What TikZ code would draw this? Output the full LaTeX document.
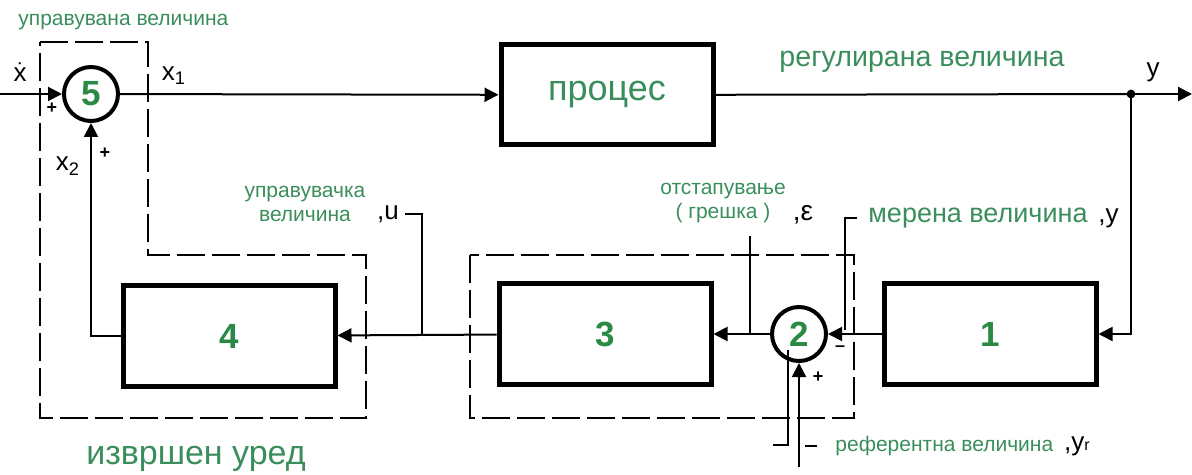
\documentclass[tikz,border=0pt]{standalone}
\usepackage{fontspec}
\setmainfont{Liberation Sans}
\usetikzlibrary{arrows.meta,positioning,calc}
\definecolor{lblgreen}{HTML}{3A8E5C}
\definecolor{numgreen}{HTML}{2A8A45}

\begin{document}
\begin{tikzpicture}[
  x=0.5pt,y=-0.5pt,
  blk/.style={draw,line width=2.5pt,minimum width=106pt,minimum height=50pt,inner sep=0pt,
    font=\fontsize{17.5}{17.5}\selectfont\bfseries,text=numgreen},
  sumj/.style={draw,circle,line width=2pt,minimum size=27pt,inner sep=0pt,
    font=\fontsize{17.5}{17.5}\selectfont\bfseries,text=numgreen},
  flow/.style={-{Triangle[length=7pt,width=7pt]},line width=1pt},
  lead/.style={line width=0.7pt},
  zone/.style={dash pattern=on 14pt off 3.5pt,line width=1pt},
  tag/.style={font=\fontsize{10.5}{12}\selectfont,text=lblgreen,inner sep=0pt},
  bigtag/.style={font=\fontsize{13.5}{15}\selectfont,text=lblgreen,inner sep=0pt},
  sym/.style={font=\fontsize{13}{13}\selectfont,inner sep=0pt},
  sgn/.style={font=\fontsize{9}{9}\selectfont\bfseries,inner sep=0pt}
]
\useasboundingbox (0,0) rectangle (1192,475);
% blocks and junctions
\node[sumj] (s5) at (91,94) {5};
\node[blk,font=\fontsize{18}{18}\selectfont,text=lblgreen] (proc) at (607,95) {процес};
\node[blk] (b1) at (990,334) {1};
\node[sumj] (s2) at (799,334) {2};
\node[blk] (b3) at (605,334) {3};
\node[blk] (b4) at (229,336) {4};
\coordinate (xin) at (0,94);
\coordinate (tap) at (1131,94);
\coordinate (yout) at (1192,94);
\coordinate (rin) at (799,467);
% signal flow
\draw[flow] (xin) -- (s5);
\draw[flow] (s5) -- (proc);
\draw[line width=1pt] (proc) -- (tap);
\draw[flow] (tap) -- (yout);
\fill (tap) circle (2.2pt);
\draw[flow] (tap) |- (b1);
\draw[flow] (b1) -- (s2);
\draw[flow] (s2) -- (b3);
\draw[flow] (b3) -- (b4);
\draw[flow] (b4) -| (s5);
\draw[flow] (rin) -- (s2);
% dashed zones
\draw[zone] (40,42) -| (148,255) -| (366,418) -| cycle;
\draw[zone] (470,255) rectangle (854,418);
% signal names
\node[tag,anchor=west] (ctrl) at (18,22) {управувана величина};
\node[sym] (xsig) at (20,72) {$\dot{\mbox{x}}$};
\node[sym] (x1) at (174,76) {x\textsubscript{1}};
\node[sym] (x2) at (68,166) {x\textsubscript{2}};
\node[sgn] (p5a) at (52,108) {+};
\node[sgn] (p5b) at (105,153) {+};
\node[bigtag,font=\fontsize{14.3}{15}\selectfont] (regv) at (922,62) {регулирана величина};
\node[sym] (yv) at (1153,72) {y};
\node[tag,align=center] (manip) at (305,204) {управувачка\\величина};
\node[sym] (uval) at (388,214) {,u};
\coordinate (utap) at (422,334);
\draw[lead] ([xshift=3pt]uval.east) -| (utap);
\node[tag,align=center] (dev) at (723,203) {отстапување\\( грешка )};
\node[sym,font=\fontsize{14}{14}\selectfont] (eval) at (803,215) {,ε};
\coordinate (etop) at (750,236);
\coordinate (etap) at (750,334);
\draw[lead] (etop) -- (etap);
\node[bigtag,anchor=west] (meas) at (868,218) {мерена величина};
\node[sym,right=5pt of meas] (ymeas) {,y};
\coordinate (mtap) at (845,330);
\draw[lead] ([xshift=-5.5pt]meas.west) -| (mtap);
\node[tag,anchor=west] (ref) at (835,446) {референтна величина};
\node[sym,right=5pt of ref] (yref) {,y{\fontsize{8}{8}\selectfont r}};
\draw[lead] ([xshift=-9pt]ref.west) -- ([xshift=-15pt]ref.west);
\coordinate (rtop) at (788,350);
\draw[lead] (773,445) -| (rtop);
\node[sgn] (m2) at (840,349) {--};
\node[sgn] (p2) at (818,377) {+};
\node[font=\fontsize{17}{17}\selectfont,text=lblgreen,inner sep=0pt] (act) at (196,459) {извршен уред};
\end{tikzpicture}
\end{document}
